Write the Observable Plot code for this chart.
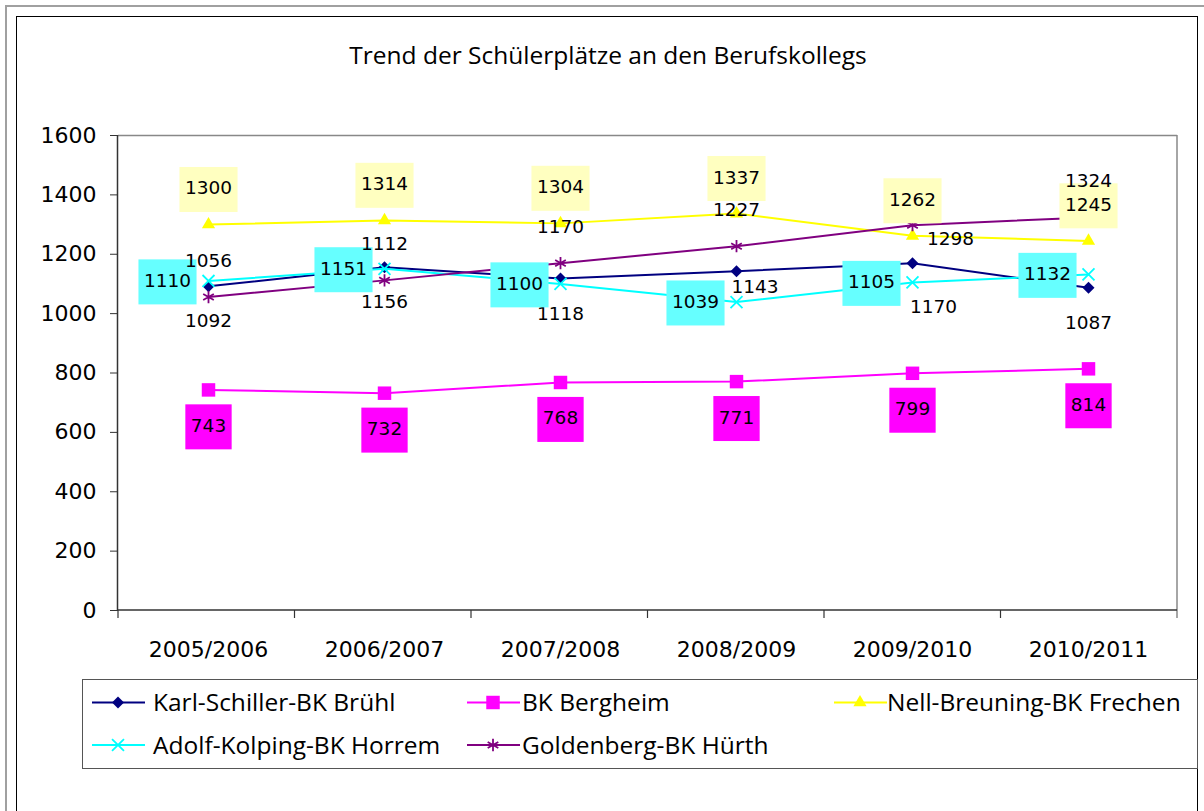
<!DOCTYPE html>
<html><head><meta charset="utf-8">
<script src="https://cdn.jsdelivr.net/npm/d3@7"></script>
<script src="https://cdn.jsdelivr.net/npm/@observablehq/plot@0.6"></script>
<style>
html,body{margin:0;padding:0;background:#fff;}
body{width:1204px;height:811px;overflow:hidden;position:relative;}
#outer{position:absolute;left:5px;top:5px;width:1400px;height:1000px;border:2px solid #a0a0a0;}
#frame{position:absolute;left:16px;top:16px;width:1180px;height:1000px;border:1px solid #000;}
#title{position:absolute;left:0;top:43px;width:1216px;text-align:center;font-family:"Open Sans";font-size:24.5px;line-height:24.5px;color:#000;white-space:nowrap;}
#chart{position:absolute;left:0;top:100px;}
#legend{position:absolute;left:82px;top:679px;width:1114px;height:88px;border:1px solid #555;background:#fff;}
#legend svg{display:block;}
</style>
</head><body>
<div id="outer"></div>
<div id="frame"></div>
<div id="title">Trend der Schülerplätze an den Berufskollegs</div>
<div id="chart"></div>
<div id="legend"></div>
<script>
// ---- data ----
const years = ["2005/2006","2006/2007","2007/2008","2008/2009","2009/2010","2010/2011"];
const seriesNames = ["Karl-Schiller-BK Brühl","BK Bergheim","Nell-Breuning-BK Frechen","Adolf-Kolping-BK Horrem","Goldenberg-BK Hürth"];
const karlSchiller = [1092,1156,1118,1143,1170,1087];
const bergheim     = [743,732,768,771,799,814];
const nellBreuning = [1300,1314,1304,1337,1262,1245];
const adolfKolping = [1110,1151,1100,1039,1105,1132];
const goldenberg   = [1056,1112,1170,1227,1298,1324];
const yTicks = [0,200,400,600,800,1000,1200,1400,1600];

const valuesBySeries = [karlSchiller, bergheim, nellBreuning, adolfKolping, goldenberg];

// ---- styles ----
// labelInk: near-black text colours, distinct per series so the label groups can be found again
const styles = [
  {color:"#000080", symbol:"diamond2", filled:true,  r:5.4, lbl:{dx:0, dy:35},  bg:null,      labelInk:"#000001"},
  {color:"#FF00FF", symbol:"square",   filled:true,  r:7.6, lbl:{dx:0, dy:36},  bg:"#FF00FF", labelInk:"#000002"},
  {color:"#FFFF00", symbol:"triangle", filled:true,  r:4.9, lbl:{dx:0, dy:-36}, bg:"#FFFFC0", labelInk:"#000003"},
  {color:"#00FFFF", symbol:"times",    filled:false, r:5.5, lbl:{dx:-41, dy:0}, bg:"#66FFFF", labelInk:"#000004"},
  {color:"#800080", symbol:"asterisk", filled:false, r:5.8, lbl:{dx:0, dy:-36}, bg:null,      labelInk:"#000005"}
];
// individual label nudges (series index|point index -> [dx,dy])
const labelNudges = {"0|3":[18.5,16], "0|4":[21,44], "4|4":[38,14]};

const rows = seriesNames.flatMap((name, si) =>
  years.map((year, i) => ({series: name, si, i, year, value: valuesBySeries[si][i]})));

const marks = [];
seriesNames.forEach((name, si) => {
  const st = styles[si];
  const data = rows.filter(d => d.si === si);
  marks.push(Plot.line(data, {x:"year", y:"value", stroke:st.color, strokeWidth:2}));
  marks.push(Plot.dot(data, st.filled
    ? {x:"year", y:"value", symbol:st.symbol, r:st.r, fill:st.color, stroke:"none"}
    : {x:"year", y:"value", symbol:st.symbol, r:st.r, stroke:st.color, strokeWidth:1.8, fill:"none"}));
});
seriesNames.forEach((name, si) => {
  const st = styles[si];
  const data = rows.filter(d => d.si === si);
  const groups = d3.group(data, d => {
    const n = labelNudges[si + "|" + d.i];
    return n ? n.join(",") : st.lbl.dx + "," + st.lbl.dy;
  });
  for (const [key, g] of groups) {
    const [dx, dy] = key.split(",").map(Number);
    marks.push(Plot.text(g, {x:"year", y:"value", text:d => String(d.value), dx, dy,
      fontSize:18.5, fontFamily:"DejaVu Sans", fill:st.labelInk}));
  }
});

const chart = Plot.plot({
  width:1204, height:580,
  marginLeft:118, marginRight:27, marginTop:35, marginBottom:70,
  style:{fontFamily:"DejaVu Sans", fontSize:"22px", background:"transparent", color:"#000"},
  x:{type:"band", domain:years, padding:0},
  y:{domain:[0,1600]},
  marks:[
    Plot.axisY({ticks:yTicks, tickSize:8, tickPadding:14, tickFormat:d => String(d), stroke:"#333", label:null}),
    Plot.axisX({tickSize:0, tickPadding:31, label:null}),
    ...marks
  ]
});
document.getElementById("chart").appendChild(chart);

// frame lines and category boundary ticks from the scales
const svg = d3.select(chart);
const xr = chart.scale("x").range, yr = chart.scale("y").range;
const x0 = Math.min(...xr), x1 = Math.max(...xr);
const yb = Math.max(...yr), yt = Math.min(...yr);
const frameG = svg.insert("g", ":first-child");
frameG.append("line").attr("x1",x0).attr("x2",x1).attr("y1",yt+0.5).attr("y2",yt+0.5).attr("stroke","#888").attr("stroke-width",1.5);
frameG.append("line").attr("x1",x1).attr("x2",x1).attr("y1",yt).attr("y2",yb+8).attr("stroke","#888").attr("stroke-width",1.5);
frameG.append("line").attr("x1",x0-0.5).attr("x2",x0-0.5).attr("y1",yt).attr("y2",yb).attr("stroke","#333").attr("stroke-width",1.5);
frameG.append("line").attr("x1",x0).attr("x2",x1).attr("y1",yb).attr("y2",yb).attr("stroke","#333").attr("stroke-width",1.5);
const step = (x1 - x0) / years.length;
for (let k = 0; k < years.length; k++) {
  frameG.append("line").attr("x1",x0+k*step).attr("x2",x0+k*step).attr("y1",yb).attr("y2",yb+8).attr("stroke","#333").attr("stroke-width",1.2);
}

// label background boxes
styles.forEach((st, si) => {
  if (!st.bg) return;
  svg.selectAll("g").filter(function() {
    const f = this.getAttribute("fill");
    return f && f.toLowerCase() === st.labelInk;
  }).selectAll("text").each(function() {
    const t = this;
    const b = t.getBBox();
    const rect = document.createElementNS("http://www.w3.org/2000/svg", "rect");
    rect.setAttribute("x", b.x - 5.5);
    rect.setAttribute("y", b.y + b.height/2 - 22.5 + 1.5);
    rect.setAttribute("width", b.width + 11);
    rect.setAttribute("height", 45);
    const tr = t.getAttribute("transform");
    if (tr) rect.setAttribute("transform", tr);
    rect.setAttribute("fill", st.bg);
    t.parentNode.insertBefore(rect, t);
  });
});

// legend
const lg = d3.select("#legend").append("svg").attr("width",1114).attr("height",88);
// [marker x, row y, text offset]
const legendPos = [[35,22.5,35],[410,22.5,29],[777,22.5,27],[35,65,35],[410,65,29]];
const symbolMap = {diamond2:d3.symbolDiamond2, square:d3.symbolSquare, triangle:d3.symbolTriangle, times:d3.symbolTimes, asterisk:d3.symbolAsterisk};
seriesNames.forEach((name, si) => {
  const st = styles[si];
  const [mx, my, tx] = legendPos[si];
  const g = lg.append("g");
  g.append("line").attr("x1",mx-26).attr("x2",mx+27).attr("y1",my).attr("y2",my).attr("stroke",st.color).attr("stroke-width",2);
  const p = g.append("path").attr("d", d3.symbol(symbolMap[st.symbol], Math.PI*st.r*st.r)()).attr("transform",`translate(${mx},${my})`);
  if (st.filled) p.attr("fill", st.color); else p.attr("fill","none").attr("stroke",st.color).attr("stroke-width",1.8);
  g.append("text").attr("x", mx+tx).attr("y", my).attr("dy","0.35em")
    .attr("font-family","Open Sans").attr("font-size",24.5).text(name);
});
</script>
</body></html>
